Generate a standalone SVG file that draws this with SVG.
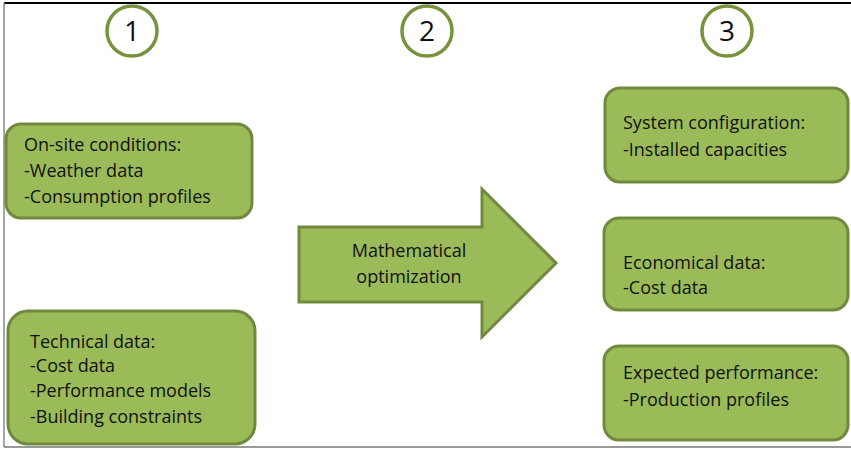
<svg xmlns="http://www.w3.org/2000/svg" width="851" height="449" viewBox="0 0 851 449">
<style>
.box{fill:#9BBB59;stroke:#71893F;stroke-width:3}
.num{fill:#fff;stroke:#77933C;stroke-width:3.5}
.t{font-family:"Open Sans","Liberation Sans",sans-serif;font-size:18px;fill:#111}
.n{font-family:"Open Sans","Liberation Sans",sans-serif;font-size:28px;fill:#111;text-anchor:middle}
</style>
<rect x="0" y="0" width="851" height="449" fill="#fff"/>
<g id="frame">
<line x1="4" y1="3" x2="851" y2="3" stroke="#000" stroke-width="2"/>
<line x1="4" y1="3" x2="4" y2="447" stroke="#888" stroke-width="1.5"/>
<line x1="4" y1="447" x2="851" y2="447" stroke="#777" stroke-width="1.5"/>
</g>
<g id="step1"><circle class="num" cx="132" cy="31" r="25"/><text class="n" x="132" y="41">1</text></g>
<g id="step2"><circle class="num" cx="427" cy="31" r="25"/><text class="n" x="427" y="41">2</text></g>
<g id="step3"><circle class="num" cx="727" cy="31" r="25"/><text class="n" x="727" y="41">3</text></g>
<g id="onsite">
<rect class="box" x="6" y="124" width="246" height="94" rx="15"/>
<text class="t" x="24" y="151">On-site conditions:</text>
<text class="t" x="24" y="177">-Weather data</text>
<text class="t" x="24" y="203">-Consumption profiles</text>
</g>
<g id="technical">
<rect class="box" x="8" y="311" width="247" height="133" rx="20"/>
<text class="t" x="30" y="348">Technical data:</text>
<text class="t" x="30" y="372">-Cost data</text>
<text class="t" x="30" y="397">-Performance models</text>
<text class="t" x="30" y="423">-Building constraints</text>
</g>
<g id="connectors">
<g id="optimization">
<polygon class="box" points="299,227 482,227 482,189 556,263 482,337 482,302 299,302"/>
<text class="t" x="409" y="257" text-anchor="middle">Mathematical</text>
<text class="t" x="409" y="283" text-anchor="middle">optimization</text>
</g>
</g>
<g id="sysconfig">
<rect class="box" x="605" y="88" width="243" height="94" rx="15"/>
<text class="t" x="623" y="129">System configuration:</text>
<text class="t" x="623" y="156">-Installed capacities</text>
</g>
<g id="economical">
<rect class="box" x="604" y="218" width="244" height="92" rx="15"/>
<text class="t" x="623" y="269">Economical data:</text>
<text class="t" x="623" y="294">-Cost data</text>
</g>
<g id="expected">
<rect class="box" x="604" y="346" width="244" height="94" rx="15"/>
<text class="t" x="623" y="379">Expected performance:</text>
<text class="t" x="623" y="406">-Production profiles</text>
</g>
</svg>
